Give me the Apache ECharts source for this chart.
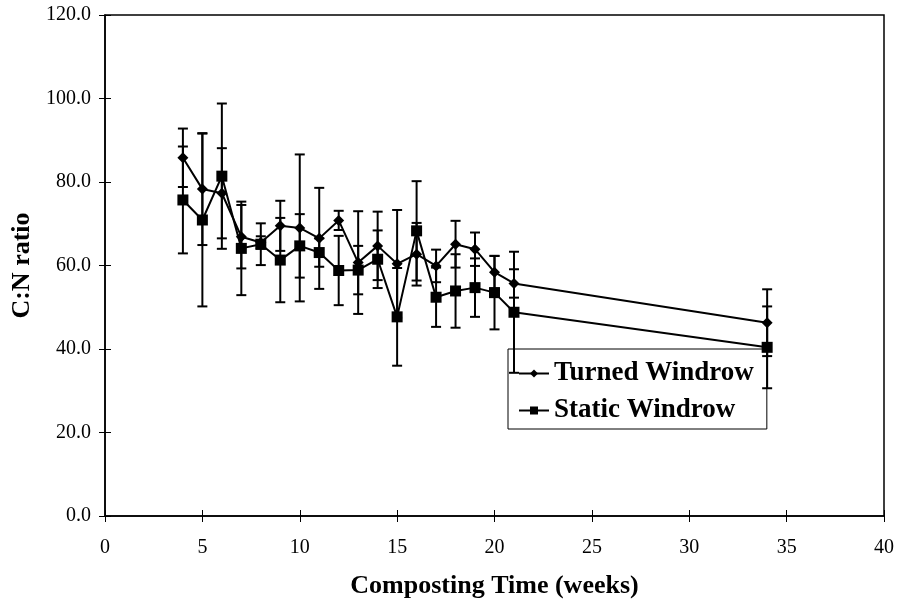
<!DOCTYPE html>
<html>
<head>
<meta charset="utf-8">
<script src="https://cdn.jsdelivr.net/npm/echarts@6/dist/echarts.min.js"></script>
<style>
  html, body { margin: 0; padding: 0; background: #fff; }
  #chart { width: 898px; height: 600px; }
</style>
</head>
<body>
<div id="chart"></div>
<script>
// composting time (weeks)
var weeks = [4, 5, 6, 7, 8, 9, 10, 11, 12, 13, 14, 15, 16, 17, 18, 19, 20, 21, 34];
// C:N ratio, turned windrow
var turned = [85.8, 78.3, 77.3, 66.9, 65.5, 69.5, 69.0, 66.5, 70.8, 60.7, 64.7, 60.4, 62.7, 59.9, 65.1, 63.9, 58.4, 55.7, 46.3];
var turnedErr = [7.0, 13.4, 10.8, 7.6, 1.5, 6.0, 17.6, 12.1, 2.3, 12.3, 8.2, 12.9, 7.5, 3.9, 5.6, 4.0, 3.9, 3.4, 8.0];
// C:N ratio, static windrow
var staticW = [75.7, 70.9, 81.4, 64.1, 65.1, 61.3, 64.7, 63.1, 58.8, 58.9, 61.5, 47.7, 68.3, 52.4, 53.9, 54.7, 53.5, 48.8, 40.4];
var staticErr = [12.8, 20.7, 17.4, 11.2, 5.0, 10.1, 7.6, 3.4, 8.3, 5.8, 6.9, 11.7, 11.9, 7.1, 8.8, 7.0, 8.8, 14.5, 9.8];

var serif = '"Liberation Serif", "Times New Roman", serif';

var chart = echarts.init(document.getElementById('chart'));

function pairs(ys) {
  return weeks.map(function (w, i) { return [w, ys[i]]; });
}
function errData(ys, errs) {
  return weeks.map(function (w, i) { return [w, ys[i], errs[i]]; });
}

// vertical bar with caps, drawn through the axes
function renderErr(params, api) {
  var x = api.value(0), y = api.value(1), e = api.value(2);
  var top = api.coord([x, y + e]);
  var bot = api.coord([x, y - e]);
  var half = 5;
  var style = { stroke: '#000', lineWidth: 2 };
  return {
    type: 'group',
    children: [
      { type: 'line', shape: { x1: top[0], y1: top[1], x2: bot[0], y2: bot[1] }, style: style },
      { type: 'line', shape: { x1: top[0] - half, y1: top[1], x2: top[0] + half, y2: top[1] }, style: style },
      { type: 'line', shape: { x1: bot[0] - half, y1: bot[1], x2: bot[0] + half, y2: bot[1] }, style: style }
    ]
  };
}

var axisLbl = { color: '#000', fontFamily: serif, fontSize: 20 };
var nameStyle = { color: '#000', fontFamily: serif, fontSize: 26, fontWeight: 'bold' };

var option = {
  backgroundColor: '#fff',
  animation: false,
  grid: {
    left: 105, right: 14, top: 15, bottom: 84,
    outerBoundsMode: 'none',
    show: true, borderColor: '#000', borderWidth: 1.5
  },
  legend: {
    data: ['Turned Windrow', 'Static Windrow'],
    orient: 'vertical',
    left: 508, top: 349,
    itemWidth: 30, itemHeight: 10, itemGap: 10,
    padding: [11, 13, 5, 10],
    borderColor: '#000', borderWidth: 1,
    textStyle: { color: '#000', fontFamily: serif, fontSize: 27, fontWeight: 'bold' }
  },
  xAxis: [{
    type: 'value', min: 0, max: 40, interval: 5,
    name: 'Composting Time (weeks)', nameLocation: 'middle', nameGap: 57,
    nameTextStyle: nameStyle,
    axisLine: { lineStyle: { color: '#000', width: 1.5 } },
    axisTick: { inside: true, length: 6, lineStyle: { color: '#000' } },
    axisLabel: Object.assign({ margin: 22 }, axisLbl),
    splitLine: { show: false }
  }, {
    type: 'value', min: 0, max: 40, interval: 5, position: 'bottom',
    axisLine: { show: false },
    axisTick: { length: 6, lineStyle: { color: '#000' } },
    axisLabel: { show: false },
    splitLine: { show: false }
  }],
  yAxis: [{
    type: 'value', min: 0, max: 120, interval: 20,
    name: 'C:N ratio', nameLocation: 'middle', nameGap: 70,
    nameTextStyle: nameStyle,
    axisLine: { lineStyle: { color: '#000', width: 1.5 } },
    axisTick: { length: 6, lineStyle: { color: '#000' } },
    axisLabel: Object.assign({ margin: 14, formatter: function (v) { return v.toFixed(1); } }, axisLbl),
    splitLine: { show: false }
  }, {
    type: 'value', min: 0, max: 120, interval: 20, position: 'left',
    axisLine: { show: false },
    axisTick: { inside: true, length: 6, lineStyle: { color: '#000' } },
    axisLabel: { show: false },
    splitLine: { show: false }
  }],
  series: [
    {
      name: 'Turned Windrow', type: 'line', data: pairs(turned),
      symbol: 'diamond', symbolSize: 11,
      lineStyle: { color: '#000', width: 2 },
      itemStyle: { color: '#000' }, z: 3
    },
    {
      name: 'Static Windrow', type: 'line', data: pairs(staticW),
      symbol: 'rect', symbolSize: 11,
      lineStyle: { color: '#000', width: 2 },
      itemStyle: { color: '#000' }, z: 3
    },
    { name: 'turnedErr', type: 'custom', renderItem: renderErr, data: errData(turned, turnedErr), z: 2 },
    { name: 'staticErr', type: 'custom', renderItem: renderErr, data: errData(staticW, staticErr), z: 2 }
  ]
};

chart.setOption(option);
</script>
</body>
</html>
